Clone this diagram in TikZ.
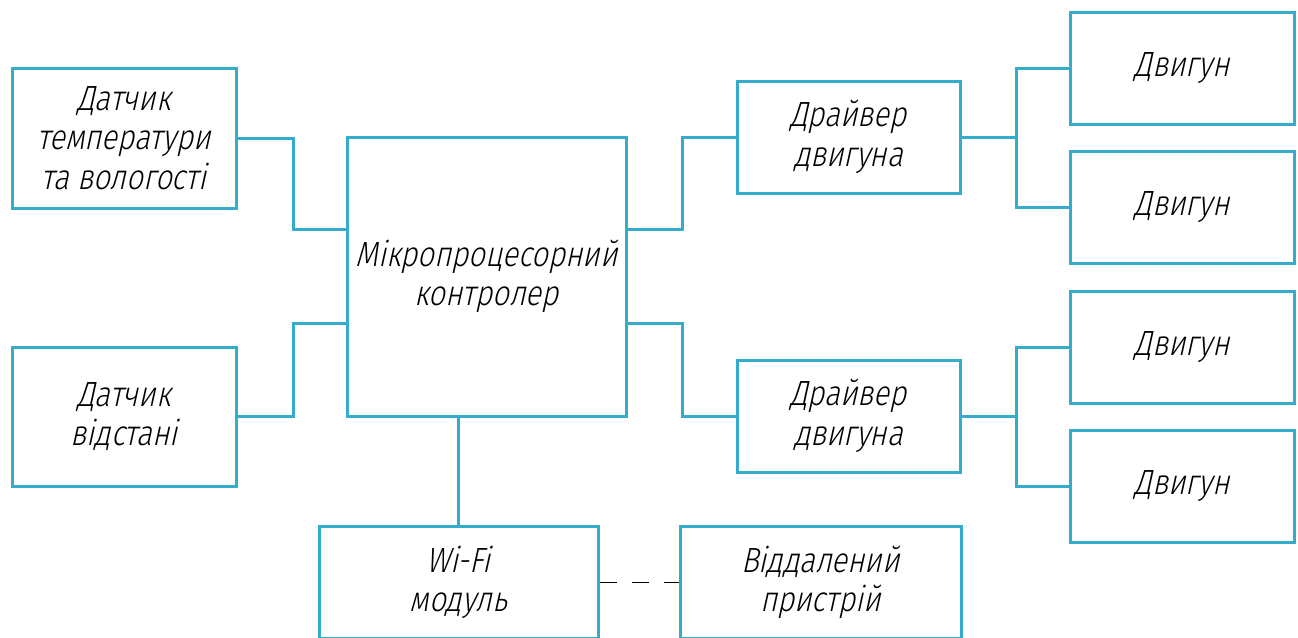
\documentclass[tikz,border=0pt]{standalone}
\usepackage{fontspec}
\newfontfamily\gost[FakeStretch=0.84,FakeSlant=0.22]{Fira Sans Light}
\usetikzlibrary{calc}
\definecolor{linec}{RGB}{54,172,204}
\tikzset{
  blk/.style={draw=linec, line width=3pt, rectangle, align=center, inner sep=0pt,
    font=\gost\fontsize{35}{39.5}\selectfont, text=black},
  wire/.style={draw=linec, line width=3pt},
  dwire/.style={draw=black, line width=1pt, dash pattern=on 17pt off 15pt}
}
\begin{document}
\begin{tikzpicture}[x=1pt,y=-1pt]
\useasboundingbox (0,0) rectangle (1298,637);
\fill[white] (0,0) rectangle (1298,637);
\node[blk, minimum width=224pt, minimum height=140pt] (s1) at (124,138) {Датчик\\температури\\та вологості};
\node[blk, minimum width=224pt, minimum height=139pt] (s2) at (124,416.5) {Датчик\\відстані};
\node[blk, minimum width=279pt, minimum height=279pt] (mc) at (486.5,276.5) {Мікропроцесорний\\контролер};
\node[blk, minimum width=223pt, minimum height=112pt] (d1) at (848.5,137) {Драйвер\\двигуна};
\node[blk, minimum width=223pt, minimum height=112pt] (d2) at (848.5,416) {Драйвер\\двигуна};
\node[blk, minimum width=224pt, minimum height=112pt] (m1) at (1182,68) {Двигун};
\node[blk, minimum width=224pt, minimum height=112pt] (m2) at (1182,207) {Двигун};
\node[blk, minimum width=224pt, minimum height=112pt] (m3) at (1182,347) {Двигун};
\node[blk, minimum width=224pt, minimum height=112pt] (m4) at (1182,486) {Двигун};
\node[blk, minimum width=279pt, minimum height=112pt] (wf) at (458.5,582.5) {Wi-Fi\\модуль};
\node[blk, minimum width=281pt, minimum height=112pt] (rd) at (820.5,582.5) {Віддалений\\пристрій};
\coordinate (ml1) at ($(mc.north west)!1/3!(mc.south west)$);
\coordinate (ml2) at ($(mc.north west)!2/3!(mc.south west)$);
\coordinate (mr1) at ($(mc.north east)!1/3!(mc.south east)$);
\coordinate (mr2) at ($(mc.north east)!2/3!(mc.south east)$);
\draw[wire] (s1.east) -- ++(56,0) |- (ml1);
\draw[wire] (s2.east) -- ++(56,0) |- (ml2);
\draw[wire] (mr1) -- ++(55,0) |- (d1.west);
\draw[wire] (mr2) -- ++(55,0) |- (d2.west);
\draw[wire] (d1.east) -- ++(55,0) coordinate (j1) |- (m1.west);
\draw[wire] (j1) |- (m2.west);
\draw[wire] (d2.east) -- ++(55,0) coordinate (j2) |- (m3.west);
\draw[wire] (j2) |- (m4.west);
\draw[wire] (mc.south -| wf.north) -- (wf.north);
\draw[dwire] (wf.east) -- (rd.west);
\end{tikzpicture}
\end{document}
